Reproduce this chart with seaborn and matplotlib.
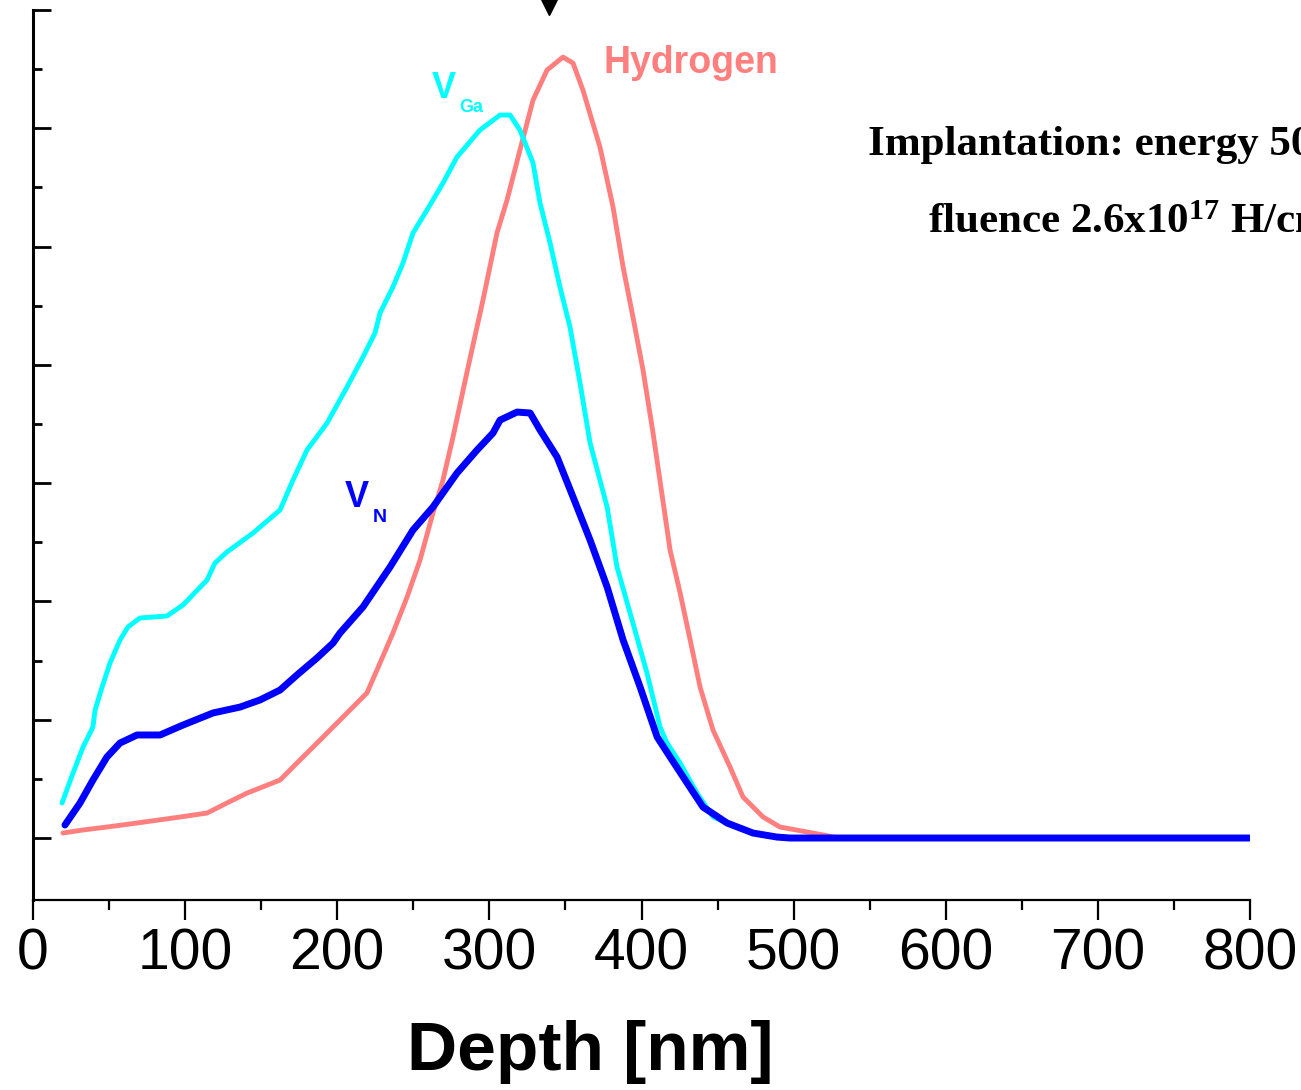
import matplotlib
matplotlib.use("Agg")
import matplotlib.pyplot as plt
import seaborn as sns
import pandas as pd
import numpy as np

# ---------------- data ----------------
depth_vga = [19.1, 26.3, 32.9, 39.4, 40.8, 45.4, 50.6, 57.2, 62.4, 70.3, 88.1, 98.6,
             114.4, 119.6, 127.5, 144.6, 162.4, 170.9, 180.1, 193.3, 206.4, 216.9,
             224.8, 228.1, 236.6, 243.2, 249.8, 259.0, 269.5, 278.7, 293.8, 307.0,
             313.6, 320.1, 328.7, 333.3, 339.9, 346.4, 353.0, 359.6, 366.2, 377.4,
             383.9, 392.5, 403.6, 412.2, 416.8, 425.4, 436.5, 447.1, 456.2, 473.3,
             489.1, 500.0, 800.0]
vga = [0.296, 0.549, 0.769, 0.938, 1.082, 1.276, 1.479, 1.674, 1.784, 1.860, 1.877,
       1.970, 2.181, 2.325, 2.418, 2.578, 2.773, 3.026, 3.280, 3.508, 3.812, 4.066,
       4.269, 4.438, 4.658, 4.861, 5.115, 5.309, 5.537, 5.757, 5.985, 6.112, 6.112,
       5.985, 5.706, 5.368, 5.030, 4.658, 4.319, 3.846, 3.339, 2.798, 2.291, 1.902,
       1.395, 0.938, 0.803, 0.634, 0.380, 0.178, 0.127, 0.042, 0.008, 0.0, 0.0]

depth_vn = [21.0, 30.9, 39.4, 48.6, 57.2, 68.4, 83.5, 98.6, 118.3, 136.1, 149.2,
            162.4, 173.5, 186.7, 197.2, 201.8, 216.9, 234.7, 249.8, 262.9, 278.7,
            291.9, 302.4, 307.0, 318.2, 326.8, 333.3, 344.5, 355.0, 366.2, 377.4,
            387.9, 399.1, 410.3, 418.8, 430.0, 440.4, 456.2, 473.3, 489.1, 497.6, 800.0]
vn = [0.110, 0.296, 0.490, 0.685, 0.803, 0.871, 0.871, 0.955, 1.057, 1.107, 1.167,
      1.251, 1.378, 1.522, 1.648, 1.733, 1.953, 2.291, 2.604, 2.798, 3.085, 3.280,
      3.424, 3.533, 3.601, 3.593, 3.449, 3.221, 2.883, 2.519, 2.122, 1.674, 1.276,
      0.854, 0.685, 0.465, 0.262, 0.127, 0.042, 0.008, 0.0, 0.0]

depth_h = [19.7, 32.9, 48.6, 68.4, 92.0, 114.4, 127.5, 140.7, 162.4, 173.5, 188.7,
           201.8, 219.5, 226.1, 236.6, 245.9, 254.4, 262.9, 269.5, 276.1, 285.3,
           295.8, 305.0, 311.6, 320.1, 328.7, 337.9, 348.4, 355.0, 361.5, 372.7,
           381.3, 387.9, 394.4, 401.0, 407.6, 418.8, 425.4, 432.0, 438.5, 447.0,
           458.2, 466.7, 479.9, 491.0, 512.7, 530.0, 800.0]
hydrogen = [0.042, 0.068, 0.093, 0.127, 0.169, 0.211, 0.296, 0.380, 0.490, 0.634,
            0.828, 0.997, 1.226, 1.420, 1.733, 2.037, 2.350, 2.747, 3.026, 3.390,
            3.939, 4.548, 5.115, 5.393, 5.816, 6.238, 6.492, 6.602, 6.551, 6.323,
            5.841, 5.334, 4.827, 4.404, 3.956, 3.423, 2.434, 2.071, 1.674, 1.276,
            0.913, 0.600, 0.347, 0.178, 0.093, 0.042, 0.0, 0.0]

x_ticks = [0, 100, 200, 300, 400, 500, 600, 700, 800]
x_tick_labels = ["0", "100", "200", "300", "400", "500", "600", "700", "800"]
marker_depth = [339.0]
marker_level = [7.06]

# ---------------- style ----------------
sns.set_theme(style="white")
plt.rcParams["font.family"] = ["Liberation Sans", "DejaVu Sans"]
plt.rcParams["mathtext.fontset"] = "custom"
plt.rcParams["mathtext.rm"] = "Liberation Serif:bold"
plt.rcParams["mathtext.it"] = "Liberation Serif:bold"
plt.rcParams["mathtext.bf"] = "Liberation Serif:bold"
plt.rcParams["text.color"] = "black"
plt.rcParams["axes.labelcolor"] = "black"
plt.rcParams["xtick.color"] = "black"
plt.rcParams["ytick.color"] = "black"

fig = plt.figure(figsize=(13.01, 10.9), dpi=100)
ax = fig.add_axes([33 / 1301, 1 - 900 / 1090, 1217 / 1301, 890 / 1090])

df_h = pd.DataFrame({"depth": depth_h, "value": hydrogen})
df_ga = pd.DataFrame({"depth": depth_vga, "value": vga})
df_n = pd.DataFrame({"depth": depth_vn, "value": vn})

sns.lineplot(data=df_h, x="depth", y="value", ax=ax, color="#FF7F7F",
             linewidth=3.5, estimator=None, sort=False)
sns.lineplot(data=df_ga, x="depth", y="value", ax=ax, color="#00FFFF",
             linewidth=3.5, estimator=None, sort=False)
sns.lineplot(data=df_n, x="depth", y="value", ax=ax, color="#0000FF",
             linewidth=5.0, estimator=None, sort=False)

ax.plot(marker_depth, marker_level, marker="v", markersize=17, color="black",
        linestyle="none", clip_on=False)

ax.set_xlim(0, 800)
ax.set_ylim(-0.524, 7.0)
ax.set_xticks(x_ticks)
ax.set_xticklabels(x_tick_labels)
ax.set_xticks(np.arange(50, 800, 100), minor=True)
ax.set_yticks(np.arange(0, 8, 1))
ax.set_yticks(np.arange(0.5, 7, 1), minor=True)

ax.tick_params(axis="x", which="both", bottom=True, top=False)
ax.tick_params(axis="y", which="both", left=True, right=False)
ax.tick_params(axis="x", which="major", direction="out", length=14.5, width=1.6,
               pad=5, labelsize=41, colors="black")
ax.tick_params(axis="x", which="minor", direction="out", length=7, width=1.6,
               colors="black")
ax.tick_params(axis="y", which="major", direction="in", length=13, width=2.0,
               labelleft=False, colors="black")
ax.tick_params(axis="y", which="minor", direction="in", length=6.5, width=2.0,
               colors="black")
plt.setp(ax.get_xticklabels(), family=["Liberation Sans Narrow", "Liberation Sans"])

for side in ["top", "right"]:
    ax.spines[side].set_visible(False)
ax.spines["left"].set_linewidth(2.2)
ax.spines["bottom"].set_linewidth(1.6)
ax.spines["left"].set_color("black")
ax.spines["bottom"].set_color("black")

ax.set_ylabel("")
ax.set_xlabel("Depth [nm]", fontsize=50, fontweight="bold", va="center",
              color="black", family=["Liberation Sans", "DejaVu Sans"])
ax.xaxis.set_label_coords((590 - 33) / 1217, (900 - 1052) / 890)

# curve labels
ax.text(374.7, 6.47, "Hydrogen", color="#FF7F7F", fontsize=27, fontweight="bold",
        ha="left", va="baseline")
ax.text(262.3, 6.255, "V", color="#00FFFF", fontsize=26, fontweight="bold",
        ha="left", va="baseline")
ax.text(280.0, 6.137, "Ga", color="#00FFFF", fontsize=13, fontweight="bold",
        ha="left", va="baseline")
ax.text(205.1, 2.798, "V", color="#0000FF", fontsize=26, fontweight="bold",
        ha="left", va="baseline")
ax.text(223.5, 2.671, "N", color="#0000FF", fontsize=14, fontweight="bold",
        ha="left", va="baseline")

# annotation (runs off the right edge as in the reference)
fig.text(868 / 1301, 1 - 155 / 1090, "Implantation: energy 50 keV",
         family=["Liberation Serif", "DejaVu Serif"], fontweight="bold",
         fontsize=31, color="black", ha="left", va="baseline")
fig.text(928 / 1301, 1 - 233 / 1090, r"fluence 2.6x10$^{17}$ H/cm$^{2}$",
         family=["Liberation Serif", "DejaVu Serif"], fontweight="bold",
         fontsize=31, color="black", ha="left", va="baseline")

fig.savefig("out.png", dpi=100, facecolor="white")
